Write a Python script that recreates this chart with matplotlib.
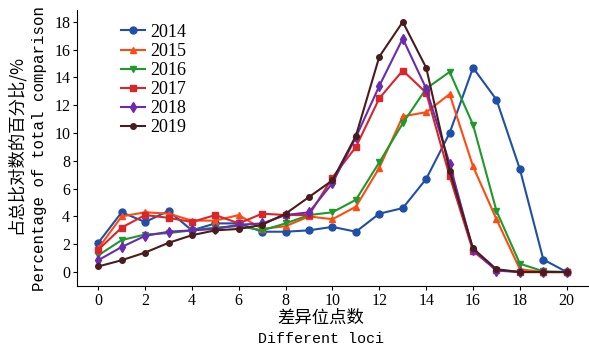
import matplotlib
matplotlib.use("Agg")
import numpy as np
from matplotlib import pyplot as plt

loci = list(range(21))

y2014 = [2.1, 4.3, 3.6, 4.4, 3.0, 3.5, 3.5, 2.9, 2.9, 3.0, 3.25, 2.9, 4.2, 4.6, 6.7, 10.0, 14.7, 12.4, 7.4, 0.9, 0.0]
y2015 = [1.7, 4.0, 4.3, 4.2, 3.7, 3.7, 4.1, 3.1, 3.3, 4.0, 3.8, 4.7, 7.5, 11.2, 11.5, 12.8, 7.6, 3.8, 0.2, 0.0, 0.0]
y2016 = [1.2, 2.3, 2.7, 2.8, 3.0, 3.2, 3.3, 3.0, 3.5, 4.1, 4.3, 5.2, 7.9, 10.7, 13.2, 14.4, 10.6, 4.4, 0.6, 0.05, 0.0]
y2017 = [1.6, 3.2, 4.1, 3.9, 3.6, 4.1, 3.5, 4.2, 4.1, 4.1, 6.8, 9.0, 12.5, 14.5, 12.9, 6.9, 1.5, 0.15, 0.0, 0.0, 0.0]
y2018 = [0.85, 1.8, 2.6, 2.9, 3.0, 3.1, 3.4, 3.5, 4.1, 4.3, 6.4, 9.7, 13.4, 16.8, 13.2, 7.8, 1.6, 0.1, 0.0, 0.0, 0.0]
y2019 = [0.4, 0.85, 1.4, 2.1, 2.65, 3.0, 3.1, 3.4, 4.2, 5.4, 6.6, 9.8, 15.5, 18.0, 14.7, 7.3, 1.7, 0.2, 0.0, 0.0, 0.0]

years = ["2014", "2015", "2016", "2017", "2018", "2019"]
series = [y2014, y2015, y2016, y2017, y2018, y2019]
colors = ["#1f4fa8", "#ff4a12", "#1d9a2a", "#d8262a", "#6a2bb0", "#4a1c1c"]
markers = ["o", "^", "v", "s", "d", "o"]
msizes = [5, 5, 5, 5, 5, 4]

fig = plt.figure(figsize=(5.89, 3.47), dpi=100)
ax = fig.add_axes([0.131, 0.176, 0.867, 0.795])

for name, vals, c, m, ms in zip(years, series, colors, markers, msizes):
    ax.plot(loci, vals, color=c, marker=m, markersize=ms, linewidth=1.5, label=name)

ax.set_xlim(-0.9, 20.9)
ax.set_ylim(-1.0, 18.85)
ax.set_xticks(range(0, 21, 2))
ax.set_yticks(range(0, 19, 2))
ax.spines["top"].set_visible(False)
ax.spines["right"].set_visible(False)
ax.tick_params(direction="out", length=3, width=0.8, labelsize=11.5, pad=2)
for lab in ax.get_xticklabels() + ax.get_yticklabels():
    lab.set_fontfamily("Liberation Serif")

leg = ax.legend(loc="upper left", bbox_to_anchor=(0.065, 0.99), frameon=False,
                prop={"family": "Liberation Serif", "size": 13},
                handlelength=1.3, handletextpad=0.3, labelspacing=0.12, borderaxespad=0.2)

cjk = ["Noto Sans CJK SC", "DejaVu Sans"]
fig.text(0.027, 0.585, "占总比对数的百分比/%", rotation=90, ha="center", va="center",
         family=cjk, fontsize=12.5)
fig.text(0.067, 0.573, "Percentage of total comparison", rotation=90, ha="center", va="center",
         family="Liberation Mono", fontsize=11.3)
fig.text(0.545, 0.083, "差异位点数", ha="center", va="center", family=cjk, fontsize=12.5)
fig.text(0.545, 0.022, "Different loci", ha="center", va="center",
         family="Liberation Mono", fontsize=10.8)

fig.savefig("out.png", dpi=100)
